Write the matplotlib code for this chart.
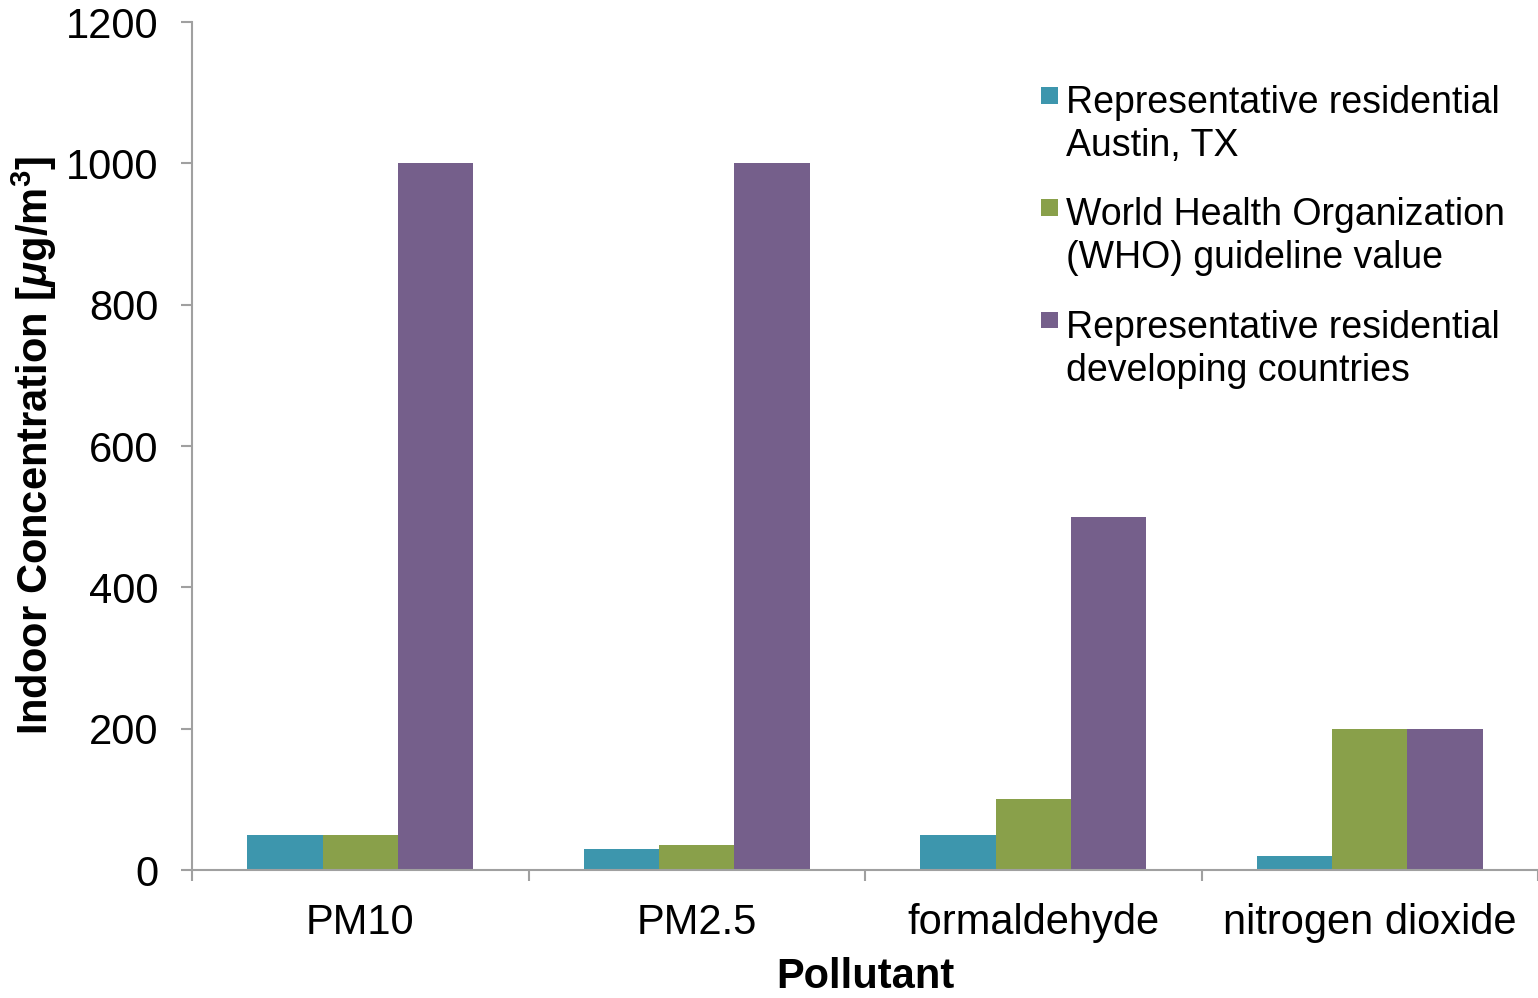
import numpy as np
import matplotlib
matplotlib.use("Agg")
import matplotlib.pyplot as plt
from matplotlib.patches import Rectangle
from matplotlib.container import BarContainer
from matplotlib.legend_handler import HandlerPatch, update_from_first_child

plt.rcParams['font.family'] = ['Liberation Sans', 'DejaVu Sans']
plt.rcParams['mathtext.fontset'] = 'custom'
plt.rcParams['mathtext.rm'] = 'Liberation Sans'
plt.rcParams['mathtext.it'] = 'Liberation Sans:italic'
plt.rcParams['mathtext.bf'] = 'Liberation Sans:bold'
plt.rcParams['mathtext.bfit'] = 'Liberation Sans:bold:italic'

# data
pollutants = ["PM10", "PM2.5", "formaldehyde", "nitrogen dioxide"]
austin = [50, 30, 50, 20]
who = [50, 35, 100, 200]
developing = [1000, 1000, 500, 200]

series_labels = [
    "Representative residential\nAustin, TX",
    "World Health Organization\n(WHO) guideline value",
    "Representative residential\ndeveloping countries",
]
colors = ["#3d96ad", "#89a04a", "#755f8b"]

LEG_FS = 27


def top_square(legend, orig_handle, xdescent, ydescent, width, height, fontsize):
    # square aligned with the first line of a two-line label
    s = width
    return Rectangle((-xdescent, 1.38 * fontsize - s), s, s)


fig = plt.figure(figsize=(15.38, 9.98), dpi=100)
ax = fig.add_axes([192 / 1538, 1 - 870 / 998, 1 - 192 / 1538, (870 - 22) / 998])

x = np.arange(len(pollutants))
width = 0.224
for i, (vals, lab, col) in enumerate(zip([austin, who, developing], series_labels, colors)):
    ax.bar(x + (i - 1) * width, vals, width, color=col, label=lab, zorder=2)

ax.set_xlim(-0.5, len(pollutants) - 0.5)
ax.set_ylim(0, 1200)
ax.set_yticks(range(0, 1201, 200))

# category labels centred, tick marks on the boundaries
ax.set_xticks(np.arange(-0.5, len(pollutants)))
ax.set_xticklabels([])
ax.set_xticks(x, minor=True)
ax.set_xticklabels(pollutants, minor=True)
ax.tick_params(axis='x', which='minor', length=0, pad=24, labelsize=30)
ax.tick_params(axis='x', which='major', length=8, width=1.5, color='#a0a0a0', direction='out')
ax.tick_params(axis='y', length=8, width=1.5, color='#a0a0a0', direction='out', pad=16, labelsize=30)

for s in ['top', 'right']:
    ax.spines[s].set_visible(False)
for s in ['left', 'bottom']:
    ax.spines[s].set_color('#a0a0a0')
    ax.spines[s].set_linewidth(1.5)
ax.spines['bottom'].set_zorder(3)

ax.set_ylabel(r'Indoor Concentration [$\mathbfit{\mu}$g/m$^\mathbf{3}$]',
              fontsize=30, fontweight='bold', labelpad=5)
ax.set_xlabel('Pollutant', fontsize=30, fontweight='bold', labelpad=10)

leg = ax.legend(loc='upper left', bbox_to_anchor=(1041 / 1538, 1 - 85 / 998),
                bbox_transform=fig.transFigure, frameon=False, fontsize=LEG_FS,
                handlelength=0.45, handleheight=0.45, handletextpad=0.21,
                labelspacing=0.89, borderaxespad=0, borderpad=0,
                handler_map={BarContainer: HandlerPatch(patch_func=top_square,
                                                        update_func=update_from_first_child)})
for t in leg.get_texts():
    t.set_linespacing(1.25)

fig.savefig("out.png", dpi=100)
